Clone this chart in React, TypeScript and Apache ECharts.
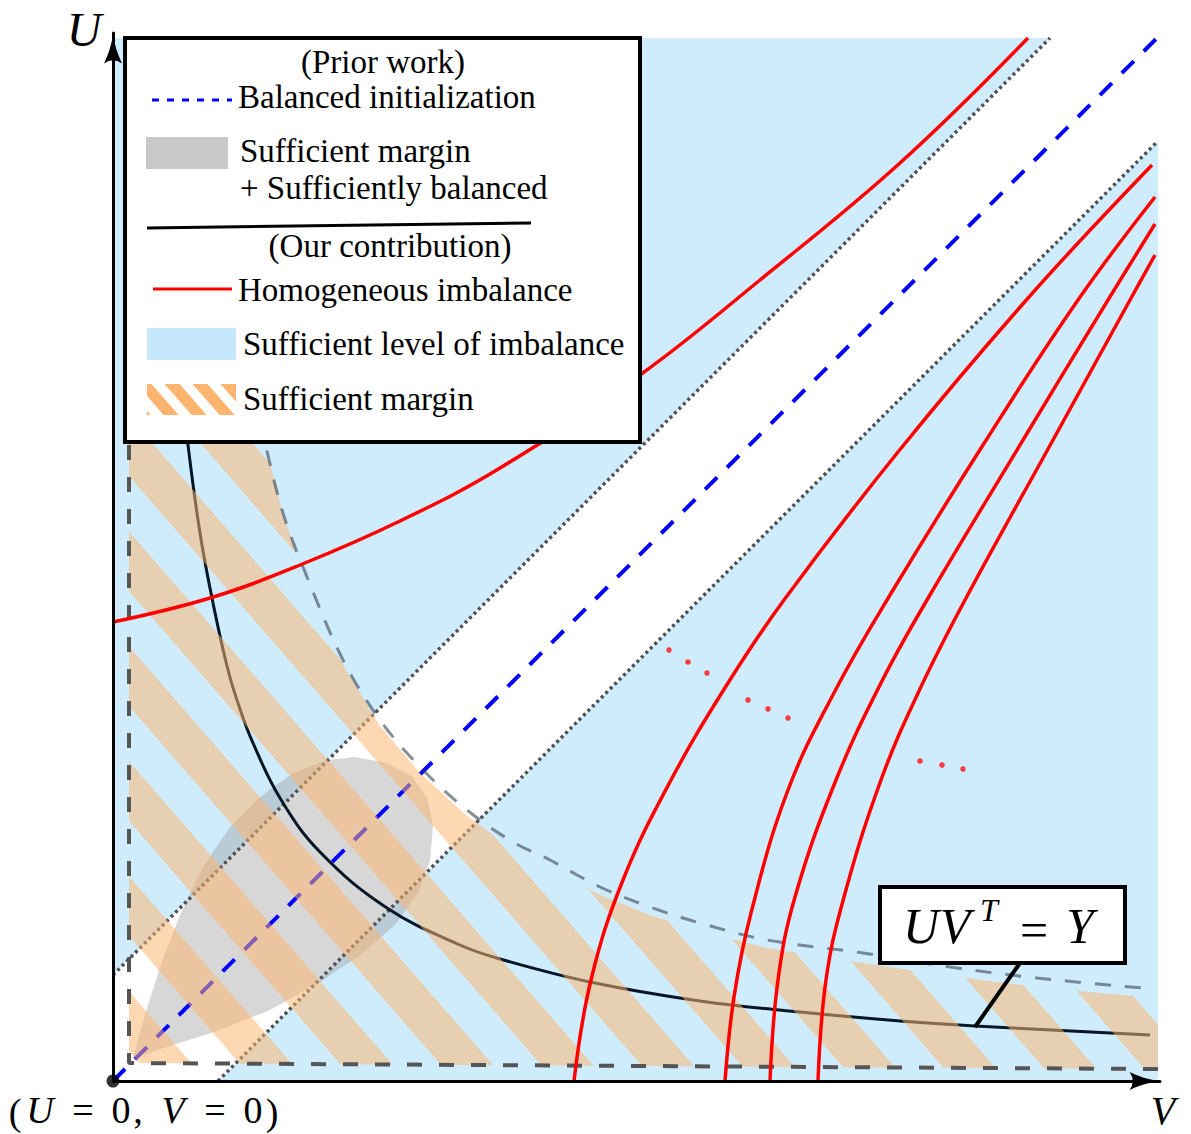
import React, { useEffect, useRef } from 'react';
import * as echarts from 'echarts';

// ---------- Data (diagram units: V horizontal, U vertical) ----------
const axisMaxV = 1047;
const axisMaxU = 1048;

// light-blue "sufficient level of imbalance" area
const imbalanceRegionV = [0, 1045, 1045, 0];
const imbalanceRegionU = [0, 0, 1043, 1043];

// white band around the balanced diagonal (between dotted lines)
const balancedBandV = [0, 0, 937, 1045, 1045, 105];
const balancedBandU = [0, 106, 1043, 1043, 940, 0];

// grey blob: sufficient margin + sufficiently balanced (prior work)
const priorRegionV = [20, 57, 107, 157, 207, 247, 282, 305, 317, 320, 315, 300, 274, 242, 214, 180, 147, 117, 90, 67, 47, 32];
const priorRegionU = [23, 35, 51, 71, 99, 126, 156, 188, 221, 254, 281, 304, 318, 324, 321, 308, 284, 254, 214, 166, 114, 66];

// balanced initialization diagonal
const balancedLineV = [0, 1045];
const balancedLineU = [0, 1044];

// dotted band borders
const upperDottedV = [0, 937];
const upperDottedU = [106, 1043];
const lowerDottedV = [105, 1045];
const lowerDottedU = [0, 940];

// UV^T = Y solution curve
const solutionV = [66, 75, 87, 100, 115, 127, 140, 167, 207, 274, 347, 387, 477, 587, 687, 787, 862, 1037];
const solutionU = [716, 636, 548, 478, 411, 372, 338, 283, 229, 173, 136, 122, 99, 80, 69, 60, 55, 46];

// hatched "sufficient margin" region
const marginRegionV = [16, 16, 1045, 1045, 1030, 924, 837, 750, 654, 587, 537, 487, 437, 400, 354, 307, 267, 230, 190, 170, 153, 145];
const marginRegionU = [700, 18, 12, 82, 84, 94, 105, 118, 133, 150, 166, 186, 213, 232, 265, 308, 355, 416, 511, 566, 634, 700];

// dashed margin borders
const marginInnerV = [16, 16, 1045];
const marginInnerU = [700, 18, 12];
const marginOuterV = [148, 153, 170, 190, 230, 267, 307, 354, 400, 437, 487, 537, 587, 654, 750, 837, 924, 1030];
const marginOuterU = [660, 634, 568, 514, 421, 361, 314, 271, 239, 221, 194, 174, 158, 141, 128, 114, 103, 93];

// homogeneous imbalance curves
const homUpperV = [0, 97, 187, 287, 387, 527, 647, 787, 915];
const homUpperU = [459, 483, 516, 560, 613, 706, 801, 918, 1043];
const homAV = [461, 478, 510, 558, 615, 671, 785, 916, 1039];
const homAU = [0, 101, 201, 301, 398, 481, 629, 784, 916];
const homBV = [612, 621, 638, 675, 722, 774, 870, 965, 1042];
const homBU = [0, 84, 168, 291, 390, 481, 636, 781, 884];
const homCV = [657, 665, 682, 723, 769, 814, 907, 995, 1042];
const homCU = [0, 101, 184, 301, 400, 481, 636, 781, 857];
const homDV = [705, 713, 731, 768, 806, 852, 940, 1017, 1042];
const homDU = [0, 101, 184, 301, 390, 481, 641, 781, 826];

// ellipsis dots
const dotsV = [556, 575, 594, 635, 655, 675, 807, 829, 850];
const dotsU = [431, 419, 408, 381, 372, 363, 320, 316, 312];

// annotation pointer (box anchor -> point on curve)
const pointerV = [907, 862];
const pointerU = [118, 54];

// legend texts
const legendTexts = {
  prior: '(Prior work)',
  balanced: 'Balanced initialization',
  grey1: 'Sufficient margin',
  grey2: '+ Sufficiently balanced',
  ours: '(Our contribution)',
  hom: 'Homogeneous imbalance',
  level: 'Sufficient level of imbalance',
  margin: 'Sufficient margin',
};

const SERIF = '"Liberation Serif", "DejaVu Serif", serif';

function zip(vs: number[], us: number[]) {
  return vs.map((v, i) => [v, us[i]]);
}

function makeStripeTile(W: number, H: number, band: number, phase: number, color: string) {
  const c = document.createElement('canvas');
  c.width = W;
  c.height = H;
  const ctx = c.getContext('2d')!;
  ctx.fillStyle = color;
  for (let k = -2; k <= 2; k++) {
    const off = phase + k * W;
    ctx.beginPath();
    ctx.moveTo(off - band / 2, 0);
    ctx.lineTo(off + band / 2, 0);
    ctx.lineTo(off + W + band / 2, H);
    ctx.lineTo(off + W - band / 2, H);
    ctx.closePath();
    ctx.fill();
  }
  return c;
}

function polygonSeries(name: string, vs: number[], us: number[], style: any, z: number) {
  const pts = zip(vs, us);
  return {
    type: 'custom',
    name,
    z,
    silent: true,
    clip: false,
    data: pts,
    renderItem: (params: any, api: any) => {
      if (params.dataIndex !== 0) return null;
      return {
        type: 'polygon',
        shape: { points: pts.map((p) => api.coord(p)) },
        style,
      };
    },
  };
}

function lineSeries(name: string, vs: number[], us: number[], color: string, width: number, type: any, smooth: number, z: number) {
  return {
    type: 'line',
    name,
    data: zip(vs, us),
    showSymbol: false,
    symbol: 'none',
    smooth,
    clip: false,
    silent: true,
    z,
    lineStyle: { color, width, type, cap: 'butt' },
  };
}

const ARROW = 'path://M10,0 Q12.5,17 20,32 Q10,25 0,32 Q7.5,17 10,0 Z';

function txt(text: string, x: number, y: number, size: number, opts: any = {}) {
  return {
    type: 'text',
    x,
    y,
    z: 120,
    silent: true,
    style: {
      text,
      fontSize: size,
      fontFamily: SERIF,
      fontStyle: opts.italic ? 'italic' : 'normal',
      fill: '#000',
      align: opts.align || 'left',
      verticalAlign: 'middle',
      textAlign: opts.align || 'left',
      textVerticalAlign: 'middle',
    },
  };
}

export default function App() {
  const ref = useRef<HTMLDivElement>(null);

  useEffect(() => {
    if (!ref.current) return;
    const chart = echarts.init(ref.current, null, { renderer: 'svg' });

    const hatchTile = makeStripeTile(100, 115, 52, 41, 'rgba(253,180,110,0.52)');
    const hatchPattern: any = { image: hatchTile, repeat: 'repeat', imageWidth: 100, imageHeight: 115 };
    const legendTile = makeStripeTile(28, 32, 15, 4, '#fdb46e');
    const legendPattern: any = { image: legendTile, repeat: 'repeat', imageWidth: 28, imageHeight: 32 };

    const axisLine = (offset: number) => ({
      show: true,
      onZero: false,
      symbol: ['none', ARROW],
      symbolSize: [18, 32],
      symbolOffset: [0, offset],
      lineStyle: { color: '#000', width: 3 },
    });

    const option: any = {
      animation: false,
      backgroundColor: '#ffffff',
      grid: { left: 113, top: 33, right: 1191 - 113 - axisMaxV, bottom: 53, containLabel: false },
      xAxis: {
        type: 'value', min: 0, max: axisMaxV, z: 20,
        axisLine: axisLine(-16), axisTick: { show: false }, axisLabel: { show: false }, splitLine: { show: false },
      },
      yAxis: {
        type: 'value', min: 0, max: axisMaxU, z: 20,
        axisLine: axisLine(-16), axisTick: { show: false }, axisLabel: { show: false }, splitLine: { show: false },
      },
      series: [
        polygonSeries('imbalance', imbalanceRegionV, imbalanceRegionU, { fill: '#cfecfc' }, 1),
        polygonSeries('band', balancedBandV, balancedBandU, { fill: '#ffffff' }, 1),
        polygonSeries('prior', priorRegionV, priorRegionU, { fill: 'rgba(150,150,150,0.38)' }, 2),
        lineSeries('balanced', balancedLineV, balancedLineU, '#0000ff', 4, [17, 14], 0, 3),
        lineSeries('upperDotted', upperDottedV, upperDottedU, '#505050', 3.5, [3, 3.3], 0, 3),
        lineSeries('lowerDotted', lowerDottedV, lowerDottedU, '#505050', 3.5, [3, 3.3], 0, 3),
        lineSeries('solution', solutionV, solutionU, '#061626', 3, 'solid', 0.4, 3),
        polygonSeries('margin', marginRegionV, marginRegionU, { fill: hatchPattern }, 4),
        lineSeries('marginInner', marginInnerV, marginInnerU, '#555555', 4, [15, 17], 0, 5),
        lineSeries('marginOuter', marginOuterV, marginOuterU, 'rgba(55,70,85,0.6)', 3, [16, 14], 0.35, 5),
        lineSeries('homUpper', homUpperV, homUpperU, '#ff0000', 3.5, 'solid', 0.4, 6),
        lineSeries('homA', homAV, homAU, '#ff0000', 3.5, 'solid', 0.4, 6),
        lineSeries('homB', homBV, homBU, '#ff0000', 3.5, 'solid', 0.4, 6),
        lineSeries('homC', homCV, homCU, '#ff0000', 3.5, 'solid', 0.4, 6),
        lineSeries('homD', homDV, homDU, '#ff0000', 3.5, 'solid', 0.4, 6),
        {
          type: 'scatter', name: 'dots', data: zip(dotsV, dotsU), symbol: 'circle', symbolSize: 5.5,
          itemStyle: { color: '#ff1010' }, z: 7, silent: true,
        },
        lineSeries('pointer', pointerV, pointerU, '#000000', 4, 'solid', 0, 30),
        {
          type: 'scatter', name: 'origin', data: [[0, 0]], symbol: 'circle', symbolSize: 13,
          itemStyle: { color: '#000' }, z: 30, silent: true,
        },
      ],
      graphic: {
        elements: [
          // legend box
          { type: 'rect', z: 100, silent: true, shape: { x: 125, y: 38, width: 515, height: 404 }, style: { fill: '#fff', stroke: '#000', lineWidth: 4 } },
          txt(legendTexts.prior, 383, 62, 33, { align: 'center' }),
          { type: 'line', z: 110, silent: true, shape: { x1: 152, y1: 100, x2: 232, y2: 100 }, style: { stroke: '#0000ff', lineWidth: 3, lineDash: [7, 8] } },
          txt(legendTexts.balanced, 238, 97, 33),
          { type: 'rect', z: 110, silent: true, shape: { x: 146, y: 137, width: 82, height: 32 }, style: { fill: '#c8c8c8' } },
          txt(legendTexts.grey1, 240, 151, 33),
          txt(legendTexts.grey2, 240, 188, 33),
          { type: 'line', z: 110, silent: true, shape: { x1: 147, y1: 228, x2: 531, y2: 223 }, style: { stroke: '#000', lineWidth: 3 } },
          txt(legendTexts.ours, 390, 246, 33, { align: 'center' }),
          { type: 'line', z: 110, silent: true, shape: { x1: 153, y1: 289, x2: 232, y2: 289 }, style: { stroke: '#ff0000', lineWidth: 3 } },
          txt(legendTexts.hom, 238, 290, 33),
          { type: 'rect', z: 110, silent: true, shape: { x: 147, y: 328, width: 89, height: 32 }, style: { fill: '#c6e8fc' } },
          txt(legendTexts.level, 243, 344, 33),
          { type: 'rect', z: 110, silent: true, shape: { x: 147, y: 384, width: 89, height: 31 }, style: { fill: legendPattern } },
          txt(legendTexts.margin, 243, 399, 33),

          // UV^T = Y annotation box
          { type: 'rect', z: 100, silent: true, shape: { x: 880, y: 887, width: 245, height: 76 }, style: { fill: '#fff', stroke: '#000', lineWidth: 4 } },
          txt('U', 921, 926, 50, { align: 'center', italic: true }),
          txt('V', 955, 926, 50, { align: 'center', italic: true }),
          txt('T', 989, 910, 32, { align: 'center', italic: true }),
          txt('=', 1034, 930, 50, { align: 'center' }),
          txt('Y', 1080, 926, 50, { align: 'center', italic: true }),

          // axis labels
          txt('U', 84, 29, 48, { align: 'center', italic: true }),
          txt('V', 1163, 1110, 40, { align: 'center', italic: true }),
          txt('(', 15, 1112, 38, { align: 'center' }),
          txt('U', 40, 1110, 38, { align: 'center', italic: true }),
          txt('=', 83, 1110, 38, { align: 'center' }),
          txt('0', 121, 1110, 38, { align: 'center' }),
          txt(',', 138, 1110, 38, { align: 'center' }),
          txt('V', 173, 1110, 38, { align: 'center', italic: true }),
          txt('=', 215, 1110, 38, { align: 'center' }),
          txt('0', 253, 1110, 38, { align: 'center' }),
          txt(')', 272, 1112, 38, { align: 'center' }),
        ],
      },
    };

    chart.setOption(option);
    return () => chart.dispose();
  }, []);

  return <div ref={ref} style={{ position: 'absolute', left: 0, top: 0, width: 1191, height: 1134 }} />;
}
